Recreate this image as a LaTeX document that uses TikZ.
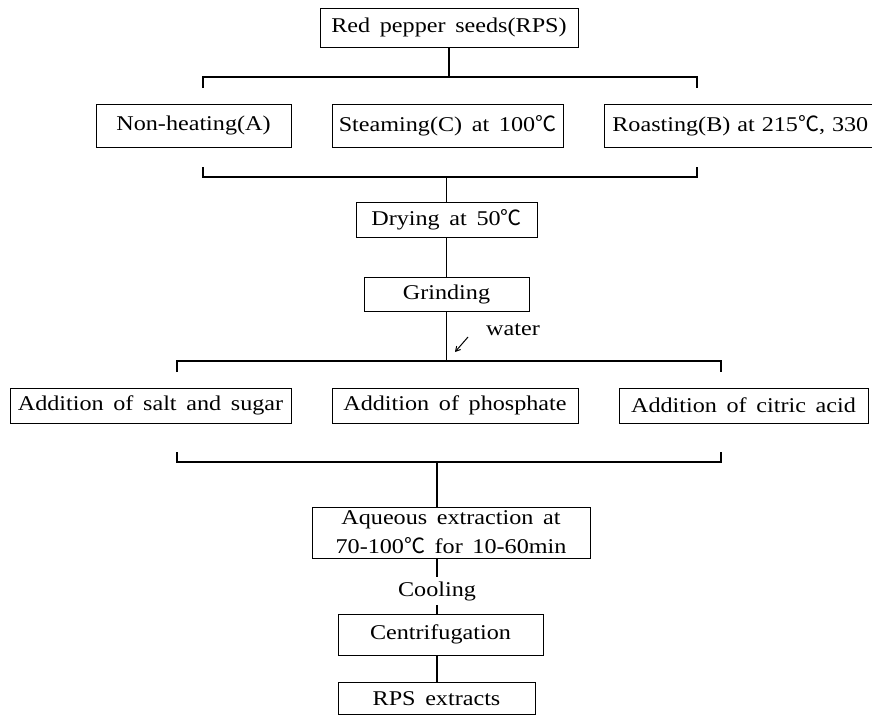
\documentclass[tikz,border=0pt]{standalone}
\usepackage{fontspec}
\setmainfont{Liberation Serif}[FakeStretch=1.15,WordSpace=1.6]
\newfontfamily\cjk{Noto Sans CJK KR}
\newcommand{\degc}{{\cjk ℃}}
\usetikzlibrary{arrows,calc,positioning}

\begin{document}
\begin{tikzpicture}[x=1pt,y=-1pt,align=center,font=\fontsize{21}{30}\selectfont]
\tikzstyle{box}=[draw=black,line width=0.7pt,inner sep=0pt,minimum height=35pt]
\tikzstyle{link}=[-,line width=1.1pt]
\useasboundingbox (0,0) rectangle (872,715);

\node[box,minimum width=258pt,minimum height=39pt] (rps) at (449,27.5) {Red pepper seeds(RPS)};

\node[box,minimum width=195pt,minimum height=43pt] (nonheat) at (193.5,125.5) {Non-heating(A)};
\node[box,minimum width=231pt,minimum height=43pt] (steam) at (447.5,125.5) {Steaming(C) at 100\degc};
\node[box,minimum height=43pt,anchor=west,text width=290pt,align=left,inner xsep=8pt] (roast) at (604,125.5) {Roasting(B) at 215\degc, 330};

\node[box,minimum width=181pt] (drying) at (446.5,219.5) {Drying at 50\degc};
\node[box,minimum width=165pt,minimum height=34pt] (grind) [below=40pt of drying.south,anchor=north] {Grinding};
\node (water) at (513,330) {water};

\node[box,minimum width=281pt] (salt) at (150.5,405.5) {Addition of salt and sugar};
\node[box,minimum width=246pt] (phos) at (455,405.5) {Addition of phosphate};
\node[box,minimum width=249pt] (citric) at (743.5,405.5) {Addition of citric acid};

\node[box,minimum width=278pt,minimum height=51pt,font=\fontsize{21}{31}\selectfont] (aqueous) at (451,532.5) {Aqueous extraction at\\[-2pt]70-100\degc{} for 10-60min};
\node[inner sep=4pt] (cool) at (437,591) {Cooling};
\node[box,minimum width=205pt,minimum height=41pt] (centrif) at (440.5,634.5) {Centrifugation};
\node[box,minimum width=197pt,minimum height=32pt] (extract) [below=27pt of centrif.south,anchor=north,xshift=-4pt] {RPS extracts};

% brackets
\coordinate (t1) at (203,77);
\coordinate (t2) at (697,77);
\coordinate (u1) at (203,177);
\coordinate (u2) at (697,177);
\coordinate (m1) at (177,361);
\coordinate (m2) at (721,361);
\coordinate (d1) at (177,462);
\coordinate (d2) at (721,462);
\coordinate (wtail) at (468,337);
\coordinate (wtip) at (455,352);

\draw[link] (t1) ++(0,11) -- (t1) -- (t2) -- ++(0,11);
\draw[link] (u1) ++(0,-10) -- (u1) -- (u2) -- ++(0,-10);
\draw[link] (m1) ++(0,11) -- (m1) -- (m2) -- ++(0,11);
\draw[link] (d1) ++(0,-10) -- (d1) -- (d2) -- ++(0,-10);

\path
  (rps.south) edge [link] (rps.south |- t1)
  (drying.north) edge [link] (drying.north |- u1)
  (drying.south) edge [link] (drying.south |- grind.north)
  (grind.south) edge [link] (grind.south |- m1)
  (cool.north |- d1) edge [link] (cool.north |- aqueous.north)
  (cool.north |- aqueous.south) edge [link] (cool.north)
  (cool.south) edge [link] (cool.south |- centrif.north)
  (cool.south |- centrif.south) edge [link] (cool.south |- extract.north);

\draw[->,>=angle 60,line width=1pt] (wtail) -- (wtip);
\end{tikzpicture}
\end{document}
